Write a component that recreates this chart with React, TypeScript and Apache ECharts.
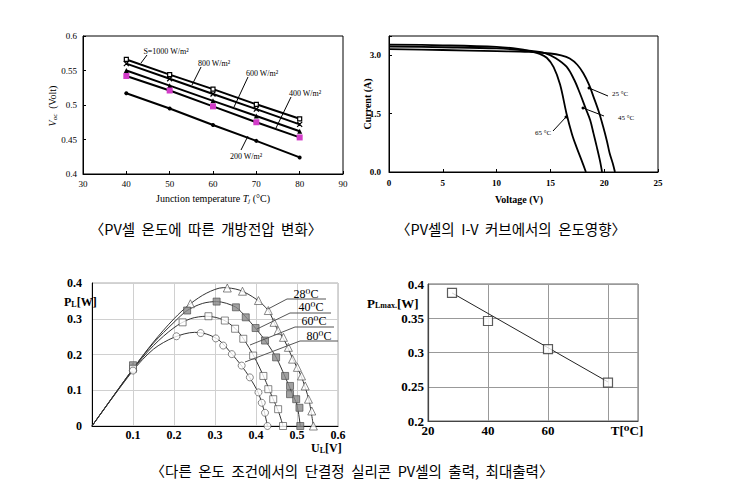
import React, { useEffect, useRef } from 'react';
import * as echarts from 'echarts';

// ---------- Chart 1: Voc vs junction temperature ----------
const tempsJ = [40, 50, 60, 70, 80];
const voc1000 = [0.566, 0.544, 0.523, 0.501, 0.480];
const voc800 = [0.560, 0.538, 0.516, 0.494, 0.472];
const voc600 = [0.550, 0.528, 0.506, 0.484, 0.462];
const voc400 = [0.542, 0.521, 0.498, 0.475, 0.453];
const voc200 = [0.517, 0.495, 0.471, 0.448, 0.424];

// ---------- Chart 2: I-V curves ----------
const iv25 = [[0, 3.16], [5, 3.14], [10, 3.11], [13, 3.09], [15, 3.05], [16, 3.0], [16.8, 2.92], [17.5, 2.76], [18.06, 2.54], [18.6, 2.24], [19.0, 1.94], [19.5, 1.55], [19.9, 1.17], [20.25, 0.8], [20.5, 0.49], [20.8, 0.22], [21.0, 0]];
const iv45 = [[0, 3.23], [5, 3.21], [10, 3.18], [13, 3.12], [14.5, 3.06], [15.5, 2.93], [16.5, 2.71], [17.2, 2.38], [17.75, 2.02], [18.3, 1.62], [18.7, 1.33], [19.0, 1.0], [19.3, 0.66], [19.6, 0.3], [19.8, 0]];
const iv65 = [[0, 3.28], [5, 3.26], [10, 3.22], [12, 3.17], [13, 3.12], [14, 3.04], [14.66, 2.94], [15.3, 2.7], [15.9, 2.25], [16.5, 1.5], [17.0, 0.98], [17.4, 0.66], [17.9, 0.3], [18.3, 0]];

// ---------- Chart 3: P-U curves ----------
const pu28Curve = [[0, 0], [0.1, 0.16], [0.15, 0.235], [0.2, 0.3], [0.24, 0.342], [0.28, 0.372], [0.32, 0.387], [0.36, 0.38], [0.4, 0.355], [0.43, 0.323], [0.45, 0.275], [0.47, 0.238], [0.49, 0.187], [0.51, 0.14], [0.52, 0.108], [0.53, 0.068], [0.54, 0]];
const pu28Marks = [[0.1, 0.165], [0.24, 0.342], [0.33, 0.386], [0.367, 0.377], [0.406, 0.351], [0.43, 0.323], [0.444, 0.29], [0.454, 0.267], [0.467, 0.248], [0.479, 0.22], [0.489, 0.187], [0.501, 0.164], [0.511, 0.14], [0.52, 0.112], [0.528, 0.075], [0.536, 0.042], [0.54, 0]];
const pu40Curve = [[0, 0], [0.1, 0.16], [0.15, 0.232], [0.2, 0.29], [0.232, 0.323], [0.27, 0.343], [0.304, 0.348], [0.35, 0.333], [0.375, 0.305], [0.4, 0.272], [0.425, 0.235], [0.45, 0.19], [0.47, 0.14], [0.485, 0.1], [0.5, 0.058], [0.508, 0]];
const pu40Marks = [[0.1, 0.17], [0.232, 0.323], [0.304, 0.348], [0.351, 0.332], [0.375, 0.304], [0.399, 0.274], [0.422, 0.239], [0.449, 0.192], [0.471, 0.14], [0.483, 0.112], [0.483, 0.089], [0.498, 0.075], [0.506, 0.051], [0.508, 0]];
const pu60Curve = [[0, 0], [0.1, 0.158], [0.15, 0.225], [0.2, 0.275], [0.24, 0.3], [0.28, 0.307], [0.32, 0.297], [0.35, 0.272], [0.37, 0.243], [0.395, 0.195], [0.42, 0.135], [0.44, 0.08], [0.455, 0.04], [0.466, 0]];
const pu60Marks = [[0.1, 0.16], [0.221, 0.29], [0.284, 0.307], [0.324, 0.295], [0.349, 0.272], [0.369, 0.244], [0.393, 0.197], [0.418, 0.14], [0.43, 0.103], [0.442, 0.075], [0.454, 0.047], [0.466, 0]];
const pu80Curve = [[0, 0], [0.1, 0.155], [0.15, 0.215], [0.2, 0.248], [0.25, 0.262], [0.28, 0.257], [0.31, 0.24], [0.34, 0.203], [0.365, 0.168], [0.385, 0.135], [0.405, 0.094], [0.418, 0.05], [0.428, 0]];
const pu80Marks = [[0.1, 0.155], [0.206, 0.251], [0.265, 0.26], [0.302, 0.245], [0.32, 0.225], [0.341, 0.201], [0.365, 0.169], [0.385, 0.136], [0.406, 0.094], [0.414, 0.065], [0.422, 0.037], [0.428, 0]];

// ---------- Chart 4: max power vs temperature ----------
const maxTemps = [28, 40, 60, 80];
const maxPower = [0.387, 0.346, 0.305, 0.256];
const fitLine = [[28, 0.387], [80, 0.257]];

const serif = '"Liberation Serif", "DejaVu Serif", serif';
const kr = '"Noto Sans CJK KR", sans-serif';

function txt(x: number, y: number, text: string, o: any = {}) {
  return {
    type: 'text', x, y, z: 100, rotation: o.rotation || 0,
    style: {
      text, fontSize: o.size || 10, fontFamily: o.family || serif,
      fontWeight: o.weight || 'normal', fontStyle: o.italic ? 'italic' : 'normal',
      fill: o.color || '#000', align: o.align || 'center', verticalAlign: 'middle',
      textAlign: o.align || 'center', textVerticalAlign: 'middle',
    },
  };
}
function seg(x1: number, y1: number, x2: number, y2: number, color = '#000', w = 1) {
  return { type: 'line', z: 100, shape: { x1, y1, x2, y2 }, style: { stroke: color, lineWidth: w } };
}
function dot(x: number, y: number) {
  return { type: 'circle', z: 100, shape: { cx: x, cy: y, r: 1.5 }, style: { fill: '#000' } };
}
function richTxt(x: number, y: number, text: string, rich: any, align = 'left', rotation = 0) {
  return {
    type: 'text', x, y, z: 100, rotation,
    style: { text, align, verticalAlign: 'middle', textAlign: align, textVerticalAlign: 'middle', fill: '#000', rich },
  };
}

function axisBase(size: number, weight: string, margin: number) {
  return {
    type: 'value',
    axisLine: { show: true, onZero: false, lineStyle: { color: '#000', width: 1 } },
    axisTick: { show: true, inside: true, length: 3, lineStyle: { color: '#000' } },
    axisLabel: { color: '#000', fontSize: size, fontFamily: serif, fontWeight: weight, margin },
    splitLine: { show: false },
  };
}

export default function App() {
  const ref = useRef<HTMLDivElement>(null);
  useEffect(() => {
    const chart = echarts.init(ref.current!, null, { renderer: 'svg' });
    const pair = (xs: number[], ys: number[]) => xs.map((x, i) => [x, ys[i]]);
    const vocLine = (name: string, ys: number[], symbol: string, size: number, color: string, extra: any = {}) => ({
      name, type: 'line', xAxisIndex: 0, yAxisIndex: 0, data: pair(tempsJ, ys),
      lineStyle: { color: '#000', width: 2 }, symbol, symbolSize: size,
      itemStyle: { color, borderColor: extra.border || color, borderWidth: extra.bw || 0 },
    });
    const ivLine = (name: string, d: number[][]) => ({
      name, type: 'line', xAxisIndex: 1, yAxisIndex: 1, data: d, smooth: 0.35, symbol: 'none',
      lineStyle: { color: '#000', width: 1.8 },
    });
    const puLine = (name: string, d: number[][]) => ({
      name, type: 'line', xAxisIndex: 2, yAxisIndex: 2, data: d, smooth: 0.3, symbol: 'none',
      lineStyle: { color: '#333', width: 1 },
    });
    const puMarks = (name: string, d: number[][], symbol: string, size: number, fill: string) => ({
      name, type: 'scatter', xAxisIndex: 2, yAxisIndex: 2, data: d, symbol, symbolSize: size,
      itemStyle: { color: fill, borderColor: '#444', borderWidth: 0.8 }, z: 5,
    });
    const sub = (big: number, small: number, bold: boolean, italic = false) => ({
      a: { fontSize: big, fontFamily: serif, fontWeight: bold ? 'bold' : 'normal', fontStyle: italic ? 'italic' : 'normal', fill: '#000' },
      n: { fontSize: big, fontFamily: serif, fontWeight: bold ? 'bold' : 'normal', fill: '#000' },
      b: { fontSize: small, fontFamily: serif, fontWeight: bold ? 'bold' : 'normal', fontStyle: italic ? 'italic' : 'normal', fill: '#000', padding: [5, 0, 0, 0] },
    });

    const option: any = {
      animation: false,
      grid: [
        { left: 83, top: 36, width: 260, height: 138, show: true, borderColor: '#000', borderWidth: 1 },
        { left: 389, top: 36, width: 269, height: 136, show: true, borderColor: '#000', borderWidth: 1 },
        { left: 92, top: 283, width: 246, height: 143, show: true, borderColor: '#aaa', borderWidth: 1 },
        { left: 428, top: 284, width: 210, height: 137, show: true, borderColor: '#666', borderWidth: 1 },
      ],
      xAxis: [
        { ...axisBase(9, 'normal', 5), gridIndex: 0, min: 30, max: 90, interval: 10 },
        { ...axisBase(9, 'bold', 6), gridIndex: 1, min: 0, max: 25, interval: 5 },
        {
          ...axisBase(12, 'bold', 3), gridIndex: 2, min: 0, max: 0.6, interval: 0.1,
          axisTick: { show: false },
          axisLabel: { color: '#000', fontSize: 12, fontFamily: serif, fontWeight: 'bold', margin: 3,
            formatter: (v: number) => (v === 0 ? '' : String(Math.round(v * 10) / 10)) },
          splitLine: { show: true, lineStyle: { color: '#d0d0d0', width: 1 } },
        },
        {
          ...axisBase(13, 'bold', 4), gridIndex: 3, min: 20, max: 90, interval: 20,
          axisLine: { show: true, onZero: false, lineStyle: { color: '#444', width: 1.2 } },
          axisTick: { show: false },
          axisLabel: { color: '#000', fontSize: 13, fontFamily: serif, fontWeight: 'bold', margin: 3,
            formatter: (v: number) => (v === 20 || v === 40 || v === 60 ? String(v) : '') },
          splitLine: { show: true, lineStyle: { color: '#999', width: 1 } },
        },
      ],
      yAxis: [
        { ...axisBase(9, 'normal', 6), gridIndex: 0, min: 0.4, max: 0.6, interval: 0.05 },
        {
          ...axisBase(9, 'bold', 8), gridIndex: 1, min: 0, max: 3.5, interval: 1.5,
          axisLabel: { color: '#000', fontSize: 9, fontFamily: serif, fontWeight: 'bold', margin: 8,
            formatter: (v: number) => (v > 3.2 ? '' : v.toFixed(1)) },
        },
        {
          ...axisBase(12, 'bold', 10), gridIndex: 2, min: 0, max: 0.4, interval: 0.1,
          axisTick: { show: false },
          axisLabel: { color: '#000', fontSize: 12, fontFamily: serif, fontWeight: 'bold', margin: 10,
            formatter: (v: number) => (v === 0 ? '0' : v.toFixed(1)) },
          splitLine: { show: true, lineStyle: { color: '#d0d0d0', width: 1 } },
        },
        {
          ...axisBase(13, 'bold', 4), gridIndex: 3, min: 0.2, max: 0.4, interval: 0.05,
          axisLine: { show: true, onZero: false, lineStyle: { color: '#444', width: 1.2 } },
          axisTick: { show: false },
          axisLabel: { color: '#000', fontSize: 13, fontFamily: serif, fontWeight: 'bold', margin: 4,
            formatter: (v: number) => String(+v.toFixed(2)) },
          splitLine: { show: true, lineStyle: { color: '#999', width: 1 } },
        },
      ],
      series: [
        vocLine('S=1000', voc1000, 'rect', 4, '#fff', { border: '#000', bw: 1.2 }),
        vocLine('800', voc800, 'path://M0,0L10,10L5,5L10,0L0,10L5,5Z', 5, '#000', { border: '#000', bw: 1.2 }),
        vocLine('600', voc600, 'triangle', 5, '#000'),
        vocLine('400', voc400, 'rect', 6, '#d23cc8'),
        vocLine('200', voc200, 'circle', 4, '#000'),
        ivLine('25', iv25),
        ivLine('45', iv45),
        ivLine('65', iv65),
        puLine('28c', pu28Curve),
        puLine('40c', pu40Curve),
        puLine('60c', pu60Curve),
        puLine('80c', pu80Curve),
        puMarks('28m', pu28Marks, 'triangle', 8, '#fff'),
        puMarks('40m', pu40Marks, 'rect', 7, '#8a8a8a'),
        puMarks('60m', pu60Marks, 'rect', 7, '#fff'),
        puMarks('80m', pu80Marks, 'circle', 7, '#fff'),
        {
          name: 'fit', type: 'line', xAxisIndex: 3, yAxisIndex: 3, data: fitLine, symbol: 'none',
          lineStyle: { color: '#222', width: 1 },
        },
        {
          name: 'pmax', type: 'scatter', xAxisIndex: 3, yAxisIndex: 3, data: pair(maxTemps, maxPower),
          symbol: 'rect', symbolSize: 9, itemStyle: { color: '#fff', borderColor: '#333', borderWidth: 1.2 }, z: 5,
        },
      ],
      graphic: [
        // chart 1 annotations
        txt(166, 51, 'S=1000 W/m²', { size: 8 }),
        seg(147, 55, 141, 63),
        txt(214, 63, '800 W/m²', { size: 8 }),
        seg(201, 67, 192, 85),
        txt(262, 73, '600 W/m²', { size: 8 }),
        seg(248, 77, 234, 107),
        txt(305, 93, '400 W/m²', { size: 8 }),
        seg(291, 97, 276, 128),
        txt(246, 156, '200 W/m²', { size: 8 }),
        seg(241, 150, 248, 136),
        richTxt(213, 198, '{n|Junction temperature }{a|T}{b|j}{n| (°C)}', sub(10, 7, false, true), 'center'),
        richTxt(52, 106, '{a|V}{b|oc}{n|  (Volt)}', sub(10, 7, false, true), 'center', Math.PI / 2),
        // chart 2 annotations
        txt(519, 199, 'Voltage (V)', { size: 10, weight: 'bold' }),
        txt(367, 104, 'Current (A)', { size: 10, weight: 'bold', rotation: Math.PI / 2 }),
        txt(620, 94, '25 °C', { size: 7 }),
        seg(608, 96, 589, 88), dot(589, 88),
        txt(626, 118, '45 °C', { size: 7 }),
        seg(604, 116, 583, 108), dot(583, 108),
        txt(543, 133, '65 °C', { size: 7 }),
        seg(553, 131, 566, 117), dot(566, 117),
        // chart 3 annotations
        txt(306, 294, '28⁰C', { size: 12 }), seg(287, 299, 326, 299, '#555'), seg(268, 309, 287, 299, '#555'),
        txt(311, 307, '40⁰C', { size: 12 }), seg(290, 313, 331, 313, '#555'), seg(257, 329, 290, 313, '#555'),
        txt(314, 321, '60⁰C', { size: 12 }), seg(295, 327, 334, 327, '#555'), seg(250, 345, 295, 327, '#555'),
        txt(319, 336, '80⁰C', { size: 12 }), seg(300, 341, 338, 341, '#555'), seg(245, 362, 300, 341, '#555'),
        richTxt(64, 302, '{a|P}{b|L}{a|[W]}', sub(12, 8, true)),
        richTxt(311, 448, '{a|U}{b|L}{a|[V]}', sub(12, 8, true)),
        // chart 4 annotations
        richTxt(367, 303, '{a|P}{b|Lmax.}{a|[W]}', sub(13, 8, true)),
        txt(627, 430, 'T[⁰C]', { size: 13, weight: 'bold' }),
        // captions
        txt(206, 228, '〈PV셀  온도에  따른  개방전압  변화〉', { size: 14.5, family: kr }),
        txt(511, 228, '〈PV셀의  I-V  커브에서의  온도영향〉', { size: 14.5, family: kr }),
        txt(352, 470, '〈다른  온도  조건에서의  단결정  실리콘  PV셀의  출력,  최대출력〉', { size: 14.5, family: kr }),
      ],
    };
    chart.setOption(option);
    return () => chart.dispose();
  }, []);
  return <div ref={ref} style={{ position: 'absolute', left: 0, top: 0, width: 733, height: 490, background: '#fff' }} />;
}
